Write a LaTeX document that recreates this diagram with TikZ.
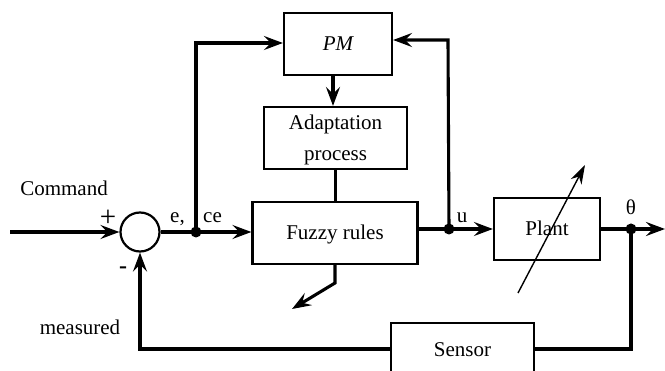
\documentclass[tikz,border=0pt]{standalone}
\usepackage{fontspec}
\setmainfont{Liberation Serif}
\usetikzlibrary{arrows.meta}

\begin{document}
\begin{tikzpicture}[x=1pt,y=-1pt,
  font=\fontsize{21}{31}\selectfont,
  block/.style={draw, line width=2.2pt, inner sep=0pt, text height=14pt, text depth=0pt},
  wire/.style={line width=3.1pt},
  arr/.style={wire, -{Stealth[length=19pt,width=14pt,inset=7pt]}},
  thinarr/.style={line width=1.4pt, -{Stealth[length=19pt,width=12pt,inset=6pt]}},
  dot/.style={circle, fill, inner sep=0pt, minimum size=11pt},
  lbl/.style={inner sep=0pt, anchor=base},
]
\useasboundingbox (0,0) rectangle (665,371);
\clip (0,0) rectangle (665,371);

% blocks
\node[block, minimum width=108pt, minimum height=62pt] (pm) at (338,44) {\itshape PM};
\node[block, minimum width=143pt, minimum height=62pt, text height=45pt, text depth=0pt, align=center] (adapt) at (335.5,138) {Adaptation\\process};
\node[block, minimum width=165pt, minimum height=62pt] (fuzzy) at (335,233) {Fuzzy rules};
\node[block, minimum width=106pt, minimum height=62pt] (plant) at (547,229) {Plant};
\node[block, minimum width=143pt, minimum height=54pt] (sensor) at (462.5,350) {Sensor};
\node[draw, circle, line width=2.2pt, minimum size=39pt, inner sep=0pt] (sum) at (140,232) {};

% branch points
\node[dot] (ej) at (196,232) {};
\node[dot] (uj) at (449,229) {};
\node[dot] (yj) at (631,229) {};

% free ends and corners
\coordinate (in) at (10,232);
\coordinate (out) at (665,229);
\coordinate (tl) at (196,43);
\coordinate (tr) at (448,40);
\coordinate (yb) at (631,349);
\coordinate (bend) at (335,283);
\coordinate (btip) at (292,309);
\coordinate (pa) at (518,293);
\coordinate (pb) at (585,165);

% forward path
\draw[arr] (in) -- (sum.west);
\draw[wire] (sum.east) -- (ej.center);
\draw[arr] (ej.center) -- (fuzzy.west |- ej);
\draw[wire] (fuzzy.east |- uj) -- (uj.center);
\draw[arr] (uj.center) -- (plant.west);
\draw[wire] (plant.east) -- (yj.center);
\draw[arr] (yj.center) -- (out);

% adaptation loop
\draw[arr] (ej.center) -- (tl) -- (pm.west |- tl);
\draw[arr] (uj.center) -- (tr) -- (pm.east |- tr);
\draw[arr] ([xshift=-5pt]pm.south) -- ([xshift=-5pt]pm.south |- adapt.north);
\draw[wire] (adapt.south) -- (adapt.south |- fuzzy.north);
\draw[arr] (fuzzy.south) -- (bend) -- (btip);

% feedback
\draw[wire] (yj.center) -- (yb) -- (sensor.east |- yb);
\draw[arr] (sensor.west |- yb) -- (sum.south |- yb) -- (sum.south);

% varying plant
\draw[thinarr] (pa) -- (pb);

% labels
\node[lbl] (cmd) at (64,196) {Command};
\node[lbl] (meas) at (80,335) {measured};
\node[inner sep=0pt, font=\fontsize{29}{31}\selectfont] (plus) at (108,218) {+};
\node[inner sep=0pt, font=\fontsize{24}{31}\selectfont\bfseries] (minus) at (123,270) {-};
\node[lbl] (elab) at (177.5,223) {e,};
\node[lbl] (celab) at (212.5,223) {ce};
\node[lbl] (ulab) at (462,223) {u};
\node[lbl] (thlab) at (631,215) {θ};
\end{tikzpicture}
\end{document}
